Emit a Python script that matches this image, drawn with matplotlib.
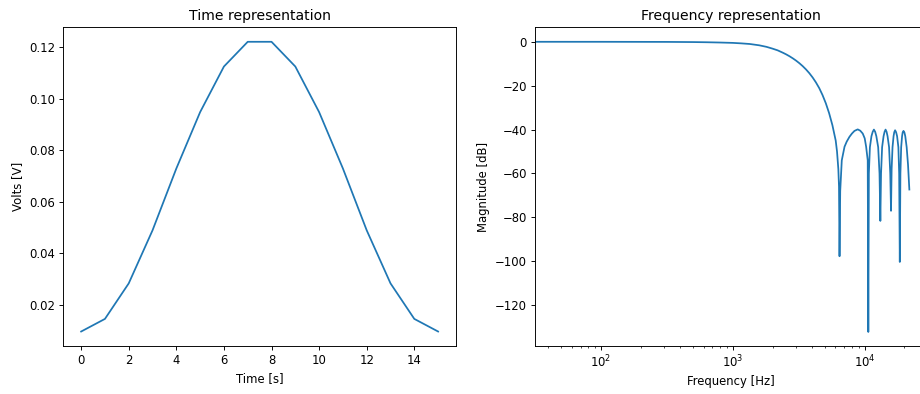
import matplotlib
matplotlib.use("Agg")
import matplotlib.pyplot as plt

# filter taps
taps = [0.0097, 0.0146, 0.0284, 0.049, 0.073, 0.0949, 0.1126, 0.1222,
        0.1222, 0.1126, 0.0949, 0.073, 0.049, 0.0284, 0.0146, 0.0097]
t = list(range(len(taps)))

# magnitude response points
freq = [20, 100, 316, 501, 631, 794, 1000, 1160, 1343, 1585, 1799, 1995, 2188,
        2399, 2541, 2692, 2851, 3020, 3199, 3388, 3589, 3802, 4027, 4266,
        4519, 4786, 5070, 5370, 5689, 6026, 6166, 6310, 6383, 6442,
        6520, 6700, 7030, 7300, 7660, 8000, 8360, 8850, 9250, 9660, 10000,
        10250, 10540, 10650,
        10750, 10950, 11250, 11500, 11740, 12000, 12250, 12650, 12950, 13140,
        13300, 13550, 13900, 14150, 14390, 14650, 14900, 15300, 15620, 15830,
        16000, 16250, 16550, 16750, 17000, 17300, 17600, 18000, 18250, 18450,
        18650, 18900, 19200, 19400, 19680, 20000, 20300, 20800, 21300, 21800]
mag_db = [0, -0.005, -0.05, -0.13, -0.21, -0.33, -0.5, -0.72, -1.0, -1.6, -2.3, -3.1, -3.9,
          -5.0, -5.75, -6.6, -7.55, -8.6, -9.78, -11.1, -12.6, -14.3, -16.25, -18.5,
          -21.1, -24.25, -28.0, -32.5, -38.0, -45.0, -50.0, -58.0, -66.0, -97.7,
          -68, -54, -47.8, -45.5, -43.3, -41.8, -40.6, -39.9, -40.5, -41.8, -44.0,
          -47.8, -54, -132.2,
          -60, -48, -43, -41, -40, -41, -43, -48, -60, -81.6,
          -60, -48, -43, -41, -40, -41, -43, -48, -60, -77,
          -58, -48, -43, -41.2, -40.3, -41.2, -43, -48, -60, -100.3,
          -60, -48, -43, -41.3, -40.6, -41.3, -43, -48, -56, -67.3]

dpi = 84
fig = plt.figure(figsize=(920 / dpi, 394 / dpi), dpi=dpi)

ax1 = fig.add_axes([0.0688, 0.1218, 0.4268, 0.8089])
ax1.plot(t, taps)
ax1.set_title("Time representation")
ax1.set_xlabel("Time [s]")
ax1.set_ylabel("Volts [V]")

ax2 = fig.add_axes([0.5815, 0.1218, 0.4268, 0.8089])
ax2.semilogx(freq, mag_db)
ax2.set_xlim(31.6, 30000)
ax2.set_ylim(-138.6, 6.6)
ax2.set_title("Frequency representation")
ax2.set_xlabel("Frequency [Hz]")
ax2.set_ylabel("Magnitude [dB]")

fig.savefig("out.png", dpi=dpi)
